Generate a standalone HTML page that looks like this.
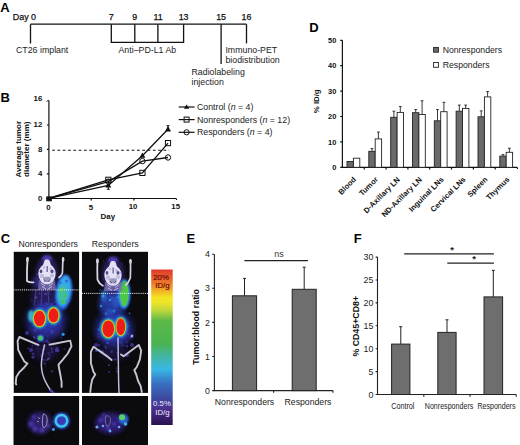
<!DOCTYPE html>
<html><head><meta charset="utf-8">
<style>
html,body{margin:0;padding:0;background:#fff;width:520px;height:445px;overflow:hidden}
svg{display:block;font-family:"Liberation Sans",sans-serif}
.b{font-weight:bold}
</style></head><body>
<svg width="520" height="445" viewBox="0 0 520 445">
<rect width="520" height="445" fill="#fff"/>

<!-- ============ PANEL A ============ -->
<g id="A">
<text x="0.3" y="11.65" class="b" font-size="13">A</text>
<g fill="#111" font-size="8.9" stroke="#111" stroke-width="0.25">
<text x="12.8" y="20">Day 0</text>
<g text-anchor="middle">
<text x="111.3" y="20">7</text>
<text x="134.8" y="20">9</text>
<text x="158" y="20">11</text>
<text x="183.6" y="20">13</text>
<text x="221.1" y="20">15</text>
<text x="246.5" y="20">16</text>
</g></g>
<g stroke="#111" stroke-width="1.3" fill="none">
<path d="M30.5 24.2H246.5"/>
<path d="M30.5 24.2V43.5"/>
<path d="M111.3 24.2V42.3H183.6V24.2M134.8 24.2V42.3M157.9 24.2V42.3"/>
<path d="M221.1 24.2V64"/>
<path d="M246.5 24.2V43.4"/>
</g>
<g fill="#222" font-size="8.8">
<text x="16" y="53">CT26 implant</text>
<text x="118.5" y="53">Anti–PD-L1 Ab</text>
<text x="191.5" y="75">Radiolabeling</text>
<text x="191.5" y="85">injection</text>
<text x="225.4" y="53">Immuno-PET</text>
<text x="225.4" y="63">biodistribution</text>
</g>
</g>

<!-- ============ PANEL B ============ -->
<g id="B">
<text x="0.5" y="102.45" class="b" font-size="13">B</text>
<g stroke="#111" stroke-width="1.2" fill="none">
<path d="M48.9 100.5V198.5H175.6C176.2 198.5 176.6 199 176.6 200"/>
<path d="M46.9 173.9H48.9M46.9 149.4H48.9M46.9 125.0H48.9M91.2 198.5V200.5M133.9 198.5V200.5"/>
<path d="M46.8 101.6C47.2 100.6 48 100.3 48.9 100.5" stroke-width="1"/>
</g>
<g class="b" font-size="7.8" fill="#111" text-anchor="end">
<text x="42.3" y="200.7">0</text>
<text x="42.3" y="176.2">4</text>
<text x="42.3" y="151.7">8</text>
<text x="42.3" y="127.3">12</text>
<text x="42.3" y="101.0">16</text>
</g>
<g class="b" font-size="7.8" fill="#111" text-anchor="middle">
<text x="48.4" y="209.5">0</text>
<text x="91.0" y="209.5">5</text>
<text x="133.1" y="209.4">10</text>
<text x="175.7" y="209.4">15</text>
</g>
<text x="107.8" y="218.8" class="b" font-size="7.9" fill="#111" text-anchor="middle">Day</text>
<g class="b" font-size="8.05" fill="#111" text-anchor="middle">
<text transform="translate(20.7,149.2) rotate(-90)">Average tumor</text>
<text transform="translate(29,149.2) rotate(-90)">diameter (mm)</text>
</g>
<path d="M52.2 150.2H169.2" stroke="#111" stroke-width="1.1" stroke-dasharray="2.7 2.6"/>
<g stroke="#111" stroke-width="1.3" fill="none">
<polyline points="48.6,198.4 108.3,181.6 142.4,161.1 168.0,157.5"/>
<polyline points="48.6,198.4 108.3,179.8 142.4,172.9 168.0,143.1"/>
<polyline points="48.6,198.4 108.3,185.5 142.4,155.7 168.0,129.3"/>
<path d="M108.3 185.5V189.3M106.8 189.3h3M168.0 129.3V125.7M166.5 125.7h3" stroke-width="1"/>
</g>
<g stroke="#111" stroke-width="1" fill="none">
<rect x="105.7" y="177.2" width="5.2" height="5.2"/>
<rect x="139.8" y="170.3" width="5.2" height="5.2"/>
<rect x="165.4" y="140.5" width="5.2" height="5.2"/>
<circle cx="108.3" cy="181.6" r="2.7"/>
<circle cx="142.4" cy="161.1" r="2.7"/>
<circle cx="168.0" cy="157.5" r="2.7"/>
</g>
<g fill="#111">
<path d="M108.3 182.3L111.3 187.6H105.3Z"/>
<path d="M142.4 152.5L145.4 157.8H139.4Z"/>
<path d="M168.0 126.1L171.0 131.4H165.0Z"/>
<rect x="46.2" y="196.4" width="5.7" height="4.9"/>
</g>
<g stroke="#111" stroke-width="1.2" fill="none">
<path d="M178.7 107H194.6"/>
<path d="M178.7 119.6H194.6"/>
<path d="M178.7 132.3H194.6"/>
<rect x="184.1" y="117.1" width="5" height="5" stroke-width="1"/>
<circle cx="186.6" cy="132.3" r="2.6" stroke-width="1"/>
</g>
<path d="M186.6 104.4L189.3 108.8H183.9Z" fill="#111"/>
<g font-size="8.8" fill="#222">
<text x="196.9" y="110.1">Control (<tspan font-style="italic">n</tspan> = 4)</text>
<text x="196.9" y="122.69999999999999">Nonresponders (<tspan font-style="italic">n</tspan> = 12)</text>
<text x="196.9" y="135.4">Responders (<tspan font-style="italic">n</tspan> = 4)</text>
</g>
</g>
<!-- ============ PANEL D ============ -->
<g id="D">
<text x="309.3" y="32.3" class="b" font-size="13">D</text>
<g stroke="#111" stroke-width="1.2" fill="none">
<path d="M342.4 40.3V167.3H516.7C517.2 167.3 517.5 167.8 517.5 169.1"/>
<path d="M340.2 167.3H342.4M340.2 141.9H342.4M340.2 116.5H342.4M340.2 91.1H342.4M340.2 65.7H342.4M340.2 40.3H342.4M364.2 167.3V169.5M386.1 167.3V169.5M407.9 167.3V169.5M429.7 167.3V169.5M451.5 167.3V169.5M473.4 167.3V169.5M495.2 167.3V169.5"/>
</g>
<g class="b" font-size="7.4" fill="#111" text-anchor="end">
<text x="336.3" y="170.0">0</text>
<text x="336.3" y="144.6">10</text>
<text x="336.3" y="119.2">20</text>
<text x="336.3" y="93.8">30</text>
<text x="336.3" y="68.4">40</text>
<text x="336.3" y="43.0">50</text>
</g>
<text class="b" font-size="7.8" fill="#111" text-anchor="middle" transform="translate(318.9,101.3) rotate(-90)">% ID/g</text>
<g stroke="#222" stroke-width="0.9">
<rect x="347.0" y="161.5" width="6.4" height="5.8" fill="#6a6a6a"/>
<rect x="353.4" y="158.2" width="6.4" height="9.1" fill="#fff"/>
<path d="M372.0 151.3V148.5M370.6 148.5h2.8" fill="none"/>
<path d="M378.4 138.9V132.0M377.0 132.0h2.8" fill="none"/>
<rect x="368.8" y="151.3" width="6.4" height="16.0" fill="#6a6a6a"/>
<rect x="375.2" y="138.9" width="6.4" height="28.4" fill="#fff"/>
<path d="M393.9 117.3V111.2M392.5 111.2h2.8" fill="none"/>
<path d="M400.3 112.4V106.6M398.9 106.6h2.8" fill="none"/>
<rect x="390.7" y="117.3" width="6.4" height="50.0" fill="#6a6a6a"/>
<rect x="397.1" y="112.4" width="6.4" height="54.9" fill="#fff"/>
<path d="M415.7 112.7V109.6M414.3 109.6h2.8" fill="none"/>
<path d="M422.1 114.5V100.8M420.7 100.8h2.8" fill="none"/>
<rect x="412.5" y="112.7" width="6.4" height="54.6" fill="#6a6a6a"/>
<rect x="418.9" y="114.5" width="6.4" height="52.8" fill="#fff"/>
<path d="M437.5 120.8V109.6M436.1 109.6h2.8" fill="none"/>
<path d="M443.9 111.7V102.3M442.5 102.3h2.8" fill="none"/>
<rect x="434.3" y="120.8" width="6.4" height="46.5" fill="#6a6a6a"/>
<rect x="440.7" y="111.7" width="6.4" height="55.6" fill="#fff"/>
<path d="M459.3 111.2V105.1M457.9 105.1h2.8" fill="none"/>
<path d="M465.7 108.4V105.1M464.3 105.1h2.8" fill="none"/>
<rect x="456.1" y="111.2" width="6.4" height="56.1" fill="#6a6a6a"/>
<rect x="462.5" y="108.4" width="6.4" height="58.9" fill="#fff"/>
<path d="M481.2 116.8V110.9M479.8 110.9h2.8" fill="none"/>
<path d="M487.6 96.9V91.6M486.2 91.6h2.8" fill="none"/>
<rect x="478.0" y="116.8" width="6.4" height="50.5" fill="#6a6a6a"/>
<rect x="484.4" y="96.9" width="6.4" height="70.4" fill="#fff"/>
<path d="M503.0 156.1V154.6M501.6 154.6h2.8" fill="none"/>
<path d="M509.4 152.3V148.2M508.0 148.2h2.8" fill="none"/>
<rect x="499.8" y="156.1" width="6.4" height="11.2" fill="#6a6a6a"/>
<rect x="506.2" y="152.3" width="6.4" height="15.0" fill="#fff"/>
</g>
<rect x="433.6" y="47.4" width="4.8" height="4.8" fill="#6a6a6a" stroke="#222" stroke-width="0.9"/>
<rect x="433.6" y="62.5" width="4.8" height="4.8" fill="#fff" stroke="#222" stroke-width="0.9"/>
<g font-size="8.7" fill="#222">
<text x="442.7" y="52.9">Nonresponders</text>
<text x="442.7" y="68.1">Responders</text>
</g>
<g class="b" font-size="7.6" fill="#111" text-anchor="end">
<text transform="translate(356.6,180) rotate(-45)">Blood</text>
<text transform="translate(378.5,180) rotate(-45)">Tumor</text>
<text transform="translate(400.4,180) rotate(-45)">D-Axillary LN</text>
<text transform="translate(422.3,180) rotate(-45)">ND-Axillary LN</text>
<text transform="translate(444.2,180) rotate(-45)">Inguinal LNs</text>
<text transform="translate(466.1,180) rotate(-45)">Cervical LNs</text>
<text transform="translate(488.0,180) rotate(-45)">Spleen</text>
<text transform="translate(509.9,180) rotate(-45)">Thymus</text>
</g>
</g>
<!-- ============ PANEL E ============ -->
<g id="E">
<text x="186.6" y="242.8" class="b" font-size="13">E</text>
<g stroke="#222" stroke-width="1.1" fill="none">
<path d="M214.4 254.2V390.6H333"/>
<path d="M212.2 390.6H214.4M212.2 356.5H214.4M212.2 322.4H214.4M212.2 288.3H214.4M212.2 254.2H214.4M273.6 390.6v2.2M333 390.6v2.2"/>
</g>
<g font-size="8.8" fill="#222" text-anchor="end">
<text x="209.8" y="393.7">0</text>
<text x="209.8" y="359.6">1</text>
<text x="209.8" y="325.5">2</text>
<text x="209.8" y="291.4">3</text>
<text x="209.8" y="257.3">4</text>
</g>
<text class="b" font-size="8.9" fill="#111" text-anchor="middle" transform="translate(198.6,326.9) rotate(-90)">Tumor:blood ratio</text>
<g stroke="#222" stroke-width="1">
<path d="M244.5 295.8V278.4M243.0 278.4h3" fill="none"/>
<rect x="232.4" y="295.8" width="24.2" height="94.8" fill="#6e6e6e"/>
<path d="M304.2 289.3V267.2M302.7 267.2h3" fill="none"/>
<rect x="292.2" y="289.3" width="24.0" height="101.3" fill="#6e6e6e"/>
</g>
<path d="M244.4 260.7H307.9" stroke="#222" stroke-width="1.2"/>
<text x="279" y="256.8" font-size="9" fill="#333" text-anchor="middle">ns</text>
<g font-size="8.7" fill="#222">
<text x="214.8" y="405.2">Nonresponders</text>
<text x="284.6" y="405.2">Responders</text>
</g>
</g>
<!-- ============ PANEL F ============ -->
<g id="F">
<text x="353.8" y="242.8" class="b" font-size="13">F</text>
<g stroke="#222" stroke-width="1.1" fill="none">
<path d="M377.5 257.1V394.5H516.2"/>
<path d="M375.6 394.5H377.6M375.6 371.6H377.6M375.6 348.7H377.6M375.6 325.8H377.6M375.6 302.9H377.6M375.6 280.0H377.6M375.6 257.1H377.6M423.8 394.5v2.2M470 394.5v2.2M516.2 394.5v2.2"/>
</g>
<g font-size="8.8" fill="#222" text-anchor="end">
<text x="373.4" y="397.6">0</text>
<text x="373.4" y="374.7">5</text>
<text x="373.4" y="351.8">10</text>
<text x="373.4" y="328.9">15</text>
<text x="373.4" y="306.0">20</text>
<text x="373.4" y="283.1">25</text>
<text x="373.4" y="260.2">30</text>
</g>
<text class="b" font-size="8.8" fill="#111" text-anchor="middle" transform="translate(359.2,326.3) rotate(-90)">% CD45+CD8+</text>
<g stroke="#222" stroke-width="1">
<path d="M400.8 344.1V326.7M399.2 326.7h3" fill="none"/>
<rect x="391.6" y="344.1" width="18.3" height="50.4" fill="#6e6e6e"/>
<path d="M447.0 332.4V319.8M445.5 319.8h3" fill="none"/>
<rect x="437.8" y="332.4" width="18.3" height="62.1" fill="#6e6e6e"/>
<path d="M493.3 296.9V270.4M491.8 270.4h3" fill="none"/>
<rect x="484.0" y="296.9" width="18.6" height="97.6" fill="#6e6e6e"/>
</g>
<path d="M404.2 253.8H493.9M447.3 263.1H493.9" stroke="#222" stroke-width="1.2"/>
<g font-size="9.5" class="b" fill="#222" text-anchor="middle">
<text x="452.2" y="252.9">*</text>
<text x="474" y="262.2">*</text>
</g>
<g font-size="8.6" fill="#222">
<text x="391.2" y="409.4" textLength="23.2" lengthAdjust="spacingAndGlyphs">Control</text>
<text x="424.8" y="409.4" textLength="48.5" lengthAdjust="spacingAndGlyphs">Nonresponders</text>
<text x="477.4" y="409.4" textLength="38.1" lengthAdjust="spacingAndGlyphs">Responders</text>
</g>
</g>
<!-- ============ PANEL C ============ -->
<defs>
<filter id="bl03" x="-20%" y="-20%" width="140%" height="140%"><feGaussianBlur stdDeviation="0.3"/></filter>
<filter id="bl06" x="-30%" y="-30%" width="160%" height="160%"><feGaussianBlur stdDeviation="0.6"/></filter>
<filter id="bl1" x="-50%" y="-50%" width="200%" height="200%"><feGaussianBlur stdDeviation="1"/></filter>
<filter id="bl2" x="-50%" y="-50%" width="200%" height="200%"><feGaussianBlur stdDeviation="2"/></filter>
<filter id="bl3" x="-50%" y="-50%" width="200%" height="200%"><feGaussianBlur stdDeviation="3"/></filter>
<clipPath id="cp1"><rect x="13.5" y="251.6" width="65.8" height="141.3"/></clipPath>
<clipPath id="cp2"><rect x="81.8" y="251.6" width="66.2" height="141.3"/></clipPath>
<clipPath id="cp3"><rect x="13.3" y="396" width="66" height="49"/></clipPath>
<clipPath id="cp4"><rect x="82" y="396" width="66" height="49"/></clipPath>
<linearGradient id="cbar" x1="0" y1="0" x2="0" y2="1">
<stop offset="0" stop-color="#e0392c"/>
<stop offset="0.09" stop-color="#ee7a2a"/>
<stop offset="0.18" stop-color="#f3e422"/>
<stop offset="0.21" stop-color="#eee628"/>
<stop offset="0.26" stop-color="#c2d73a"/>
<stop offset="0.33" stop-color="#5cb948"/>
<stop offset="0.48" stop-color="#4ab352"/>
<stop offset="0.55" stop-color="#44b49a"/>
<stop offset="0.64" stop-color="#3ab8e6"/>
<stop offset="0.73" stop-color="#3872c2"/>
<stop offset="0.82" stop-color="#3c4ca2"/>
<stop offset="0.90" stop-color="#4a2f8a"/>
<stop offset="1" stop-color="#2a1250"/>
</linearGradient>

</defs>
<g id="C">
<text x="0.7" y="242.7" class="b" font-size="13">C</text>
<g font-size="8.7" fill="#222">
<text x="18.5" y="247.3">Nonresponders</text>
<text x="91.8" y="246.8">Responders</text>
</g>
<!-- image 1 -->
<g clip-path="url(#cp1)">
<rect x="13.5" y="251.6" width="65.8" height="141.3" fill="#0b0a0d"/>
<!-- body haze -->
<ellipse cx="44" cy="298" rx="12" ry="14" fill="#3c2c96" opacity="0.55" filter="url(#bl3)"/>
<ellipse cx="46" cy="330" rx="17" ry="9" fill="#3a2e9a" opacity="0.6" filter="url(#bl3)"/>
<ellipse cx="45" cy="350" rx="14" ry="10" fill="#2e2478" opacity="0.45" filter="url(#bl3)"/>
<ellipse cx="37" cy="282" rx="5" ry="6" fill="#3a3aa8" opacity="0.6" filter="url(#bl2)"/>
<path d="M36 290L34 306M42 290L41 306M48 290L49 305" stroke="#6a60b0" stroke-width="1.2" opacity="0.45" filter="url(#bl06)"/>
<!-- speckle1 -->
<g filter="url(#bl06)">
<circle cx="51.7" cy="348.4" r="0.8" fill="#6a58d0" opacity="0.35"/>
<circle cx="47.7" cy="359.5" r="1.1" fill="#7a68d8" opacity="0.64"/>
<circle cx="61.1" cy="317.2" r="1.1" fill="#3a48c8" opacity="0.30"/>
<circle cx="35.2" cy="344.4" r="1.1" fill="#5a40c0" opacity="0.32"/>
<circle cx="32.4" cy="341.4" r="0.8" fill="#3a48c8" opacity="0.34"/>
<circle cx="41.3" cy="355.4" r="1.1" fill="#5a40c0" opacity="0.31"/>
<circle cx="37.7" cy="284.0" r="1.1" fill="#4a38b0" opacity="0.36"/>
<circle cx="54.2" cy="302.3" r="1.0" fill="#5a40c0" opacity="0.45"/>
<circle cx="60.2" cy="326.0" r="0.9" fill="#4a38b0" opacity="0.63"/>
<circle cx="45.1" cy="332.5" r="1.1" fill="#5a40c0" opacity="0.40"/>
<circle cx="31.8" cy="300.0" r="1.1" fill="#4a38b0" opacity="0.33"/>
<circle cx="38.6" cy="341.6" r="1.1" fill="#4a38b0" opacity="0.51"/>
<circle cx="39.7" cy="293.5" r="0.7" fill="#7a68d8" opacity="0.52"/>
<circle cx="45.2" cy="341.3" r="0.9" fill="#5a40c0" opacity="0.33"/>
<circle cx="48.0" cy="342.0" r="1.3" fill="#4a38b0" opacity="0.58"/>
<circle cx="52.1" cy="371.2" r="1.3" fill="#6a58d0" opacity="0.44"/>
<circle cx="43.4" cy="353.6" r="0.8" fill="#7a68d8" opacity="0.31"/>
<circle cx="34.1" cy="337.6" r="1.0" fill="#7a68d8" opacity="0.53"/>
<circle cx="45.4" cy="360.2" r="1.0" fill="#4a38b0" opacity="0.54"/>
<circle cx="43.4" cy="359.7" r="0.9" fill="#6a58d0" opacity="0.37"/>
<circle cx="43.0" cy="349.9" r="1.3" fill="#4a38b0" opacity="0.43"/>
<circle cx="49.7" cy="294.1" r="0.8" fill="#3a48c8" opacity="0.42"/>
<circle cx="44.7" cy="363.5" r="1.3" fill="#3a48c8" opacity="0.52"/>
<circle cx="45.7" cy="294.0" r="1.3" fill="#7a68d8" opacity="0.46"/>
<circle cx="37.6" cy="348.2" r="0.7" fill="#4a38b0" opacity="0.44"/>
<circle cx="32.4" cy="345.7" r="0.9" fill="#4a38b0" opacity="0.58"/>
<circle cx="52.2" cy="300.0" r="0.8" fill="#4a38b0" opacity="0.37"/>
<circle cx="36.0" cy="297.4" r="1.2" fill="#7a68d8" opacity="0.48"/>
<circle cx="61.3" cy="337.8" r="0.9" fill="#3a48c8" opacity="0.63"/>
<circle cx="49.0" cy="358.2" r="1.3" fill="#6a58d0" opacity="0.46"/>
<circle cx="55.8" cy="351.3" r="1.1" fill="#5a40c0" opacity="0.37"/>
<circle cx="64.0" cy="355.6" r="0.9" fill="#5a40c0" opacity="0.31"/>
<circle cx="47.5" cy="336.3" r="1.3" fill="#3a48c8" opacity="0.35"/>
<circle cx="46.7" cy="340.5" r="1.3" fill="#3a48c8" opacity="0.63"/>
<circle cx="45.7" cy="366.2" r="0.8" fill="#4a38b0" opacity="0.45"/>
<circle cx="48.6" cy="352.8" r="1.1" fill="#4a38b0" opacity="0.48"/>
<circle cx="61.1" cy="321.8" r="0.9" fill="#3a48c8" opacity="0.63"/>
<circle cx="37.4" cy="274.1" r="1.1" fill="#6a58d0" opacity="0.50"/>
<circle cx="46.7" cy="303.7" r="1.3" fill="#7a68d8" opacity="0.34"/>
<circle cx="64.5" cy="349.2" r="1.0" fill="#4a38b0" opacity="0.47"/>
<circle cx="45.0" cy="294.2" r="0.8" fill="#7a68d8" opacity="0.31"/>
<circle cx="35.4" cy="338.0" r="1.4" fill="#5a40c0" opacity="0.37"/>
<circle cx="34.0" cy="336.3" r="0.9" fill="#6a58d0" opacity="0.39"/>
<circle cx="49.6" cy="355.1" r="1.1" fill="#4a38b0" opacity="0.55"/>
<circle cx="51.9" cy="352.1" r="1.1" fill="#7a68d8" opacity="0.37"/>
<circle cx="51.8" cy="330.8" r="1.1" fill="#7a68d8" opacity="0.51"/>
<circle cx="56.6" cy="350.4" r="1.3" fill="#6a58d0" opacity="0.51"/>
<circle cx="51.6" cy="349.1" r="0.8" fill="#7a68d8" opacity="0.54"/>
<circle cx="33.0" cy="353.8" r="1.4" fill="#5a40c0" opacity="0.50"/>
<circle cx="40.4" cy="330.3" r="0.7" fill="#4a38b0" opacity="0.36"/>
<circle cx="44.0" cy="342.3" r="1.0" fill="#4a38b0" opacity="0.51"/>
<circle cx="28.2" cy="348.3" r="0.9" fill="#5a40c0" opacity="0.58"/>
<circle cx="51.7" cy="304.1" r="1.1" fill="#7a68d8" opacity="0.50"/>
<circle cx="39.0" cy="344.9" r="0.9" fill="#5a40c0" opacity="0.56"/>
<circle cx="58.2" cy="350.9" r="1.0" fill="#6a58d0" opacity="0.61"/>
</g>
<!-- tumor -->
<ellipse cx="63.5" cy="292.5" rx="8.6" ry="18" fill="#2a50d4" filter="url(#bl1)" transform="rotate(8 63.5 292.5)"/>
<ellipse cx="63.8" cy="291.5" rx="7" ry="16" fill="#34ace8" filter="url(#bl1)" transform="rotate(8 63.8 291.5)"/>
<ellipse cx="62.8" cy="294" rx="4.5" ry="9" fill="#3cbfa0" filter="url(#bl1)" transform="rotate(8 62.8 294)"/>
<circle cx="63.5" cy="302" r="2" fill="#4cc24c" filter="url(#bl06)"/>
<circle cx="61.5" cy="290" r="2" fill="#50c858" filter="url(#bl06)"/>
<circle cx="65" cy="296" r="1.5" fill="#48c050" filter="url(#bl06)"/>
<circle cx="66.5" cy="281" r="1.6" fill="#2a70d8" filter="url(#bl06)"/>
<circle cx="60" cy="283" r="1.4" fill="#2a70d8" filter="url(#bl06)"/>
<circle cx="68" cy="301" r="1.4" fill="#2a80e0" filter="url(#bl06)"/>
<!-- skull -->
<g transform="translate(47 270.5)">
<ellipse cx="0" cy="3" rx="11" ry="17" fill="#4a38b0" opacity="0.5" filter="url(#bl2)"/>
<ellipse cx="0" cy="-12" rx="5" ry="3.5" fill="#5a44c8" opacity="0.8" filter="url(#bl1)"/>
<path d="M-8 10C-4 8 4 8 8 10L9 19L-9 19Z" fill="#7a70b0" opacity="0.8" filter="url(#bl06)"/>
<path d="M-2 -10.5C0 -11.5 2 -11 2.8 -9L4 -5.5C6.5 -3.5 8.5 -1 8.6 2C8.7 5 8 7.5 6.8 9.5C5.5 12 3 13.8 0 13.8C-3 13.8 -5.5 12 -6.8 9.5C-8 7.5 -8.7 5 -8.6 2C-8.5 -1 -6.5 -3.5 -4 -5.5L-2.8 -9Z" fill="#e4e2f2" filter="url(#bl06)"/>
<ellipse cx="-6" cy="0.8" rx="1.3" ry="1.9" fill="#4a4888" filter="url(#bl03)"/>
<ellipse cx="5" cy="0.8" rx="1.5" ry="1.9" fill="#4a4888" filter="url(#bl03)"/>
<path d="M-0.6 -4.5H1V1.5H-0.6Z" fill="#7a78b0" filter="url(#bl03)"/>
<g fill="#a09cd0" opacity="0.55" filter="url(#bl06)"><circle cx="-5" cy="5.5" r="2.2"/><circle cx="5" cy="5" r="2"/><circle cx="-3" cy="-3" r="1.3"/><circle cx="3.5" cy="-1.5" r="1.4"/><circle cx="7" cy="1" r="1.2"/></g>
<path d="M-4 7C-2 6 2 6 4 7L3 11.5H-3Z" fill="#8a88b4" opacity="0.8" filter="url(#bl03)"/>
<path d="M-6 12.5L-2 15.5M6 12.5L2 15.5M-5 16L-1 18.5M5 16L1 18.5" stroke="#c8c4dc" stroke-width="0.9" filter="url(#bl03)"/>
<path d="M-3 9L-1 11M3 9L1 11" stroke="#4a4680" stroke-width="0.8" filter="url(#bl03)"/>
</g>
<!-- arms -->
<path d="M27.6 258C27 266 26.8 274 27 281C29 282.5 31 282.5 33.5 282.3" stroke="#dcd8e6" stroke-width="1.8" fill="none" filter="url(#bl03)" stroke-linecap="round"/>
<path d="M63 258C62.6 264 62.6 270 62.4 273C61.6 275.5 60.4 276.5 59 277.5" stroke="#d4d0e2" stroke-width="1.7" fill="none" filter="url(#bl03)" stroke-linecap="round"/>
<g fill="#d8d4e4" filter="url(#bl06)"><ellipse cx="27.4" cy="259.5" rx="1.4" ry="2.6"/><ellipse cx="63.1" cy="259.5" rx="1.3" ry="2.4"/></g>
<!-- kidneys -->
<ellipse cx="46" cy="320" rx="20" ry="17" fill="#2a36b0" opacity="0.6" filter="url(#bl3)"/>
<ellipse cx="46.5" cy="317" rx="15" ry="12" fill="#2e3cbc" opacity="0.8" filter="url(#bl2)"/>
<ellipse cx="39.5" cy="318.5" rx="8" ry="10" fill="#2ea8e0" filter="url(#bl1)"/>
<ellipse cx="53.5" cy="315.4" rx="7.3" ry="9.3" fill="#2ea8e0" filter="url(#bl1)"/>
<ellipse cx="37.5" cy="317" rx="6" ry="6" fill="#40c060" filter="url(#bl1)"/>
<ellipse cx="31" cy="316" rx="3" ry="6" fill="#3ab0c8" filter="url(#bl1)"/>
<ellipse cx="39.5" cy="318.5" rx="6.9" ry="9.1" fill="#58c848" filter="url(#bl06)"/>
<ellipse cx="53.5" cy="315.4" rx="6.3" ry="8.4" fill="#58c848" filter="url(#bl06)"/>
<ellipse cx="39.5" cy="318.5" rx="6.3" ry="8.5" fill="#eedc22" filter="url(#bl03)"/>
<ellipse cx="53.5" cy="315.4" rx="5.7" ry="7.8" fill="#eedc22" filter="url(#bl03)"/>
<ellipse cx="39.5" cy="318.5" rx="5.6" ry="7.8" fill="#ee1c16" filter="url(#bl03)"/>
<ellipse cx="53.5" cy="315.4" rx="5" ry="7.1" fill="#ee1c16" filter="url(#bl03)"/>
<!-- bladder -->
<circle cx="40.5" cy="338.2" r="3.6" fill="#2a60c8" filter="url(#bl06)"/>
<circle cx="40.5" cy="338.2" r="2.4" fill="#48c060" filter="url(#bl03)"/>
<!-- spots -->
<g fill="#4a38b0" opacity="0.75" filter="url(#bl06)">
<circle cx="27" cy="333" r="2"/><circle cx="31" cy="350" r="2"/><circle cx="57" cy="349" r="2"/><circle cx="35" cy="330" r="1.8"/><circle cx="33" cy="357" r="1.6"/><circle cx="52" cy="332" r="1.8"/>
</g>
<circle cx="63.1" cy="334.3" r="1.6" fill="#3090e0" filter="url(#bl03)"/>
<!-- legs / pelvis bones -->
<g stroke="#c8c4d2" stroke-width="1.9" fill="none" filter="url(#bl03)" stroke-linecap="round" stroke-linejoin="round">
<path d="M38.3 344.8L19.4 337L17.6 341.2L18.2 349.9L21.3 356L24.4 361.6L27.5 363.5L24.4 367.2L19.4 372.1L16.3 377.1L15.7 383.3L16.3 384.5"/>
<path d="M49.5 344.5L51.7 344.3L70.2 340.6L71.5 346.1L67.8 353.5L62.8 359.7L58.5 364.6L59.1 368.3L60.3 374.5L61.6 381.9L61.6 386.9"/>
<path d="M44.5 345C43 352 41.5 358 41.4 365C41.5 372 43.5 378 46.4 383.3C47.5 385.5 48.8 387.5 50.1 389.5" stroke-dasharray="1.5 0.5" stroke="#c4bedc" stroke-width="1.5"/>
</g>
<path d="M50 389.5L54.4 394" stroke="#5040c0" stroke-width="2.5" filter="url(#bl06)"/>
<path d="M13.5 289.9H79.3" stroke="#eeeeee" stroke-width="1" stroke-dasharray="1.1 1"/>
</g>
<!-- image 2 -->
<g clip-path="url(#cp2)">
<rect x="81.8" y="251.6" width="66.2" height="141.3" fill="#0b0a0d"/>
<ellipse cx="112" cy="300" rx="12" ry="12" fill="#3040b8" opacity="0.6" filter="url(#bl3)"/>
<ellipse cx="114" cy="335" rx="17" ry="10" fill="#3434a8" opacity="0.6" filter="url(#bl3)"/>
<ellipse cx="114" cy="352" rx="14" ry="8" fill="#2e2478" opacity="0.45" filter="url(#bl3)"/>
<ellipse cx="104" cy="296" rx="3" ry="6" fill="#2e8ad8" opacity="0.7" filter="url(#bl1)"/>
<ellipse cx="116" cy="302" rx="3" ry="6" fill="#2e8ad8" opacity="0.6" filter="url(#bl1)"/>
<ellipse cx="110" cy="312" rx="4" ry="3" fill="#30a0e0" opacity="0.6" filter="url(#bl1)"/>
<!-- speckle2 -->
<g filter="url(#bl06)">
<circle cx="122.6" cy="345.5" r="1.2" fill="#5a40c0" opacity="0.37"/>
<circle cx="100.1" cy="348.9" r="0.9" fill="#4a44c8" opacity="0.30"/>
<circle cx="109.1" cy="372.0" r="1.1" fill="#4a44c8" opacity="0.57"/>
<circle cx="119.1" cy="342.2" r="0.9" fill="#5a40c0" opacity="0.48"/>
<circle cx="104.1" cy="296.9" r="1.1" fill="#5a40c0" opacity="0.64"/>
<circle cx="117.0" cy="371.4" r="1.1" fill="#4a44c8" opacity="0.49"/>
<circle cx="109.0" cy="365.0" r="1.0" fill="#3a60d8" opacity="0.60"/>
<circle cx="110.9" cy="314.4" r="0.9" fill="#5a40c0" opacity="0.51"/>
<circle cx="108.1" cy="290.6" r="1.2" fill="#6a58d0" opacity="0.63"/>
<circle cx="121.2" cy="343.2" r="0.7" fill="#3a60d8" opacity="0.51"/>
<circle cx="122.1" cy="264.0" r="0.9" fill="#5a40c0" opacity="0.32"/>
<circle cx="110.9" cy="312.4" r="1.4" fill="#3a60d8" opacity="0.32"/>
<circle cx="96.3" cy="350.4" r="1.3" fill="#3a60d8" opacity="0.64"/>
<circle cx="127.9" cy="326.8" r="0.8" fill="#6a58d0" opacity="0.45"/>
<circle cx="108.0" cy="342.8" r="1.3" fill="#3a60d8" opacity="0.63"/>
<circle cx="107.8" cy="289.0" r="1.2" fill="#6a58d0" opacity="0.54"/>
<circle cx="103.4" cy="261.1" r="0.7" fill="#3a60d8" opacity="0.49"/>
<circle cx="107.1" cy="342.9" r="1.3" fill="#4a44c8" opacity="0.58"/>
<circle cx="111.7" cy="351.7" r="1.3" fill="#3a60d8" opacity="0.46"/>
<circle cx="128.8" cy="326.0" r="0.9" fill="#3a60d8" opacity="0.45"/>
<circle cx="105.2" cy="346.4" r="0.8" fill="#3a60d8" opacity="0.62"/>
<circle cx="113.8" cy="345.1" r="0.9" fill="#3a60d8" opacity="0.38"/>
<circle cx="124.1" cy="316.8" r="0.8" fill="#30a0e0" opacity="0.31"/>
<circle cx="127.0" cy="342.2" r="1.0" fill="#5a40c0" opacity="0.49"/>
<circle cx="128.8" cy="322.2" r="0.8" fill="#5a40c0" opacity="0.61"/>
<circle cx="117.0" cy="368.2" r="1.2" fill="#5a40c0" opacity="0.32"/>
<circle cx="116.1" cy="347.8" r="0.8" fill="#4a44c8" opacity="0.40"/>
<circle cx="96.3" cy="351.1" r="1.0" fill="#3a60d8" opacity="0.47"/>
<circle cx="112.2" cy="298.0" r="1.3" fill="#30a0e0" opacity="0.54"/>
<circle cx="128.4" cy="334.0" r="1.3" fill="#5a40c0" opacity="0.59"/>
<circle cx="120.2" cy="317.7" r="1.2" fill="#4a44c8" opacity="0.45"/>
<circle cx="101.0" cy="306.4" r="0.9" fill="#4a44c8" opacity="0.47"/>
<circle cx="132.1" cy="343.9" r="0.7" fill="#5a40c0" opacity="0.62"/>
<circle cx="100.1" cy="290.0" r="0.8" fill="#30a0e0" opacity="0.52"/>
<circle cx="129.5" cy="313.3" r="1.0" fill="#30a0e0" opacity="0.53"/>
<circle cx="127.0" cy="346.3" r="1.3" fill="#4a44c8" opacity="0.53"/>
<circle cx="112.8" cy="300.4" r="1.3" fill="#5a40c0" opacity="0.51"/>
<circle cx="106.2" cy="287.6" r="1.3" fill="#6a58d0" opacity="0.35"/>
<circle cx="115.2" cy="359.4" r="1.2" fill="#4a44c8" opacity="0.63"/>
<circle cx="117.8" cy="355.7" r="0.9" fill="#3a60d8" opacity="0.45"/>
<circle cx="115.9" cy="317.9" r="0.8" fill="#30a0e0" opacity="0.41"/>
<circle cx="98.2" cy="334.1" r="1.2" fill="#4a44c8" opacity="0.53"/>
<circle cx="116.8" cy="310.2" r="0.7" fill="#3a60d8" opacity="0.62"/>
<circle cx="98.7" cy="329.6" r="1.4" fill="#30a0e0" opacity="0.63"/>
<circle cx="105.6" cy="289.2" r="1.0" fill="#30a0e0" opacity="0.46"/>
<circle cx="98.5" cy="336.8" r="1.0" fill="#5a40c0" opacity="0.52"/>
<circle cx="106.0" cy="347.9" r="0.9" fill="#6a58d0" opacity="0.49"/>
<circle cx="103.5" cy="279.5" r="0.9" fill="#5a40c0" opacity="0.34"/>
<circle cx="108.6" cy="316.1" r="1.3" fill="#4a44c8" opacity="0.51"/>
<circle cx="99.0" cy="345.4" r="1.3" fill="#6a58d0" opacity="0.38"/>
<circle cx="118.9" cy="316.5" r="1.1" fill="#3a60d8" opacity="0.65"/>
<circle cx="117.2" cy="352.7" r="0.8" fill="#6a58d0" opacity="0.58"/>
<circle cx="112.0" cy="304.0" r="1.2" fill="#3a60d8" opacity="0.41"/>
<circle cx="121.5" cy="342.1" r="1.0" fill="#6a58d0" opacity="0.52"/>
<circle cx="109.9" cy="296.3" r="0.8" fill="#3a60d8" opacity="0.50"/>
</g>
<ellipse cx="112" cy="306" rx="13" ry="13" fill="#2c48c8" opacity="0.55" filter="url(#bl2)"/>
<g fill="#30a8e8" opacity="0.75" filter="url(#bl06)">
<circle cx="103" cy="296" r="1.5"/><circle cx="110" cy="300" r="1.3"/><circle cx="114" cy="311" r="1.6"/><circle cx="106" cy="314" r="1.4"/><circle cx="118" cy="297" r="1.3"/><circle cx="101" cy="306" r="1.2"/>
</g>
<!-- tumor green -->
<ellipse cx="124" cy="294" rx="6.5" ry="15" fill="#2a60d0" filter="url(#bl1)"/>
<ellipse cx="124" cy="294" rx="5.3" ry="13.8" fill="#38b0d8" filter="url(#bl1)"/>
<ellipse cx="124.3" cy="293.5" rx="4.2" ry="12.8" fill="#50c84a" filter="url(#bl06)"/>
<!-- skull -->
<g transform="translate(113 272)">
<ellipse cx="0" cy="3" rx="11" ry="17" fill="#4a38b0" opacity="0.5" filter="url(#bl2)"/>
<ellipse cx="0" cy="-12" rx="5" ry="3.5" fill="#5a44c8" opacity="0.8" filter="url(#bl1)"/>
<path d="M-8 10C-4 8 4 8 8 10L9 19L-9 19Z" fill="#7a70b0" opacity="0.8" filter="url(#bl06)"/>
<path d="M-2 -10.5C0 -11.5 2 -11 2.8 -9L4 -5.5C6.5 -3.5 8.5 -1 8.6 2C8.7 5 8 7.5 6.8 9.5C5.5 12 3 13.8 0 13.8C-3 13.8 -5.5 12 -6.8 9.5C-8 7.5 -8.7 5 -8.6 2C-8.5 -1 -6.5 -3.5 -4 -5.5L-2.8 -9Z" fill="#e4e2f2" filter="url(#bl06)"/>
<ellipse cx="-6" cy="0.8" rx="1.3" ry="1.9" fill="#4a4888" filter="url(#bl03)"/>
<ellipse cx="5" cy="0.8" rx="1.5" ry="1.9" fill="#4a4888" filter="url(#bl03)"/>
<path d="M-0.6 -4.5H1V1.5H-0.6Z" fill="#7a78b0" filter="url(#bl03)"/>
<g fill="#a09cd0" opacity="0.55" filter="url(#bl06)"><circle cx="-5" cy="5.5" r="2.2"/><circle cx="5" cy="5" r="2"/><circle cx="-3" cy="-3" r="1.3"/><circle cx="3.5" cy="-1.5" r="1.4"/><circle cx="7" cy="1" r="1.2"/></g>
<path d="M-4 7C-2 6 2 6 4 7L3 11.5H-3Z" fill="#8a88b4" opacity="0.8" filter="url(#bl03)"/>
<path d="M-6 12.5L-2 15.5M6 12.5L2 15.5M-5 16L-1 18.5M5 16L1 18.5" stroke="#c8c4dc" stroke-width="0.9" filter="url(#bl03)"/>
<path d="M-3 9L-1 11M3 9L1 11" stroke="#4a4680" stroke-width="0.8" filter="url(#bl03)"/>
</g>
<!-- arms -->
<path d="M97.5 259.4C97.2 266 97.2 273 97.5 279.6C98.6 282.5 100.5 284.5 102.9 285.7" stroke="#dcd8e6" stroke-width="1.8" fill="none" filter="url(#bl03)" stroke-linecap="round"/>
<path d="M130.5 260C130.6 266 130.6 272 130.3 278C129.2 281 127.6 283.5 125.8 285" stroke="#d4d0e2" stroke-width="1.7" fill="none" filter="url(#bl03)" stroke-linecap="round"/>
<g fill="#d8d4e4" filter="url(#bl06)"><ellipse cx="97.4" cy="261" rx="1.4" ry="2.6"/><ellipse cx="130.5" cy="261.5" rx="1.3" ry="2.4"/></g>
<!-- kidneys -->
<ellipse cx="114" cy="328" rx="19" ry="17" fill="#2a36b0" opacity="0.6" filter="url(#bl3)"/>
<ellipse cx="114.5" cy="327" rx="14" ry="12" fill="#2e3cbc" opacity="0.8" filter="url(#bl2)"/>
<ellipse cx="108.3" cy="328.8" rx="8.2" ry="10.6" fill="#2ea8e0" filter="url(#bl1)"/>
<ellipse cx="120.8" cy="326.8" rx="6.6" ry="10.6" fill="#2ea8e0" filter="url(#bl1)"/>
<ellipse cx="108.3" cy="328.8" rx="7" ry="9.6" fill="#58c848" filter="url(#bl06)"/>
<ellipse cx="120.8" cy="326.8" rx="5.4" ry="9.6" fill="#58c848" filter="url(#bl06)"/>
<ellipse cx="108.3" cy="328.8" rx="6.5" ry="9" fill="#eedc22" filter="url(#bl03)"/>
<ellipse cx="120.8" cy="326.8" rx="4.9" ry="9" fill="#eedc22" filter="url(#bl03)"/>
<ellipse cx="108.3" cy="328.8" rx="5.9" ry="8.4" fill="#ee1c16" filter="url(#bl03)"/>
<ellipse cx="120.8" cy="326.8" rx="4.4" ry="8.4" fill="#ee1c16" filter="url(#bl03)"/>
<g fill="#4a38b0" opacity="0.75" filter="url(#bl06)">
<circle cx="96" cy="345" r="2"/><circle cx="132" cy="345" r="2"/><circle cx="102" cy="352" r="2"/><circle cx="127" cy="355" r="2"/><circle cx="131" cy="337" r="1.6"/>
</g>
<circle cx="132" cy="336" r="1.4" fill="#a0a0f0" filter="url(#bl03)"/>
<g stroke="#c8c4d2" stroke-width="1.9" fill="none" filter="url(#bl03)" stroke-linecap="round" stroke-linejoin="round">
<path d="M111.7 360L108 356.9L93.5 346.8L90.9 351.9L90.9 363.2L93.5 372L95.3 374.6L92.2 379.6L90.9 385.9L90.3 392"/>
<path d="M121 354.4L123.6 356.3L138.7 344.9L141.2 350.6L139.9 359.4L136.8 367L134.3 370.1L136.2 374.5L138 380.8L140.6 385.9L141.8 392"/>
<path d="M118 338C118.2 352 118.4 365 118.5 375C118.6 382 118.8 386 119 393" stroke-dasharray="1.5 0.5" stroke="#c4bedc" stroke-width="1.5"/>
</g>
<path d="M81.8 293.4H148" stroke="#eeeeee" stroke-width="1" stroke-dasharray="1.1 1"/>
</g>
<!-- axial 1 -->
<g clip-path="url(#cp3)">
<rect x="13.3" y="396" width="66" height="49" fill="#0b0a0d"/>
<ellipse cx="40" cy="423" rx="12" ry="11" fill="#3a2890" opacity="0.75" filter="url(#bl2)"/>
<g fill="#5a40c0" opacity="0.7" filter="url(#bl1)">
<circle cx="31" cy="424" r="2.6"/><circle cx="35" cy="429" r="2.4"/><circle cx="42" cy="430" r="2.6"/><circle cx="34" cy="417" r="2"/><circle cx="48" cy="426" r="2"/>
</g>
<circle cx="61.5" cy="420.8" r="8.4" fill="#2a50d0" filter="url(#bl1)"/>
<circle cx="61.5" cy="420.8" r="5.8" fill="none" stroke="#40c8e8" stroke-width="2.3" filter="url(#bl06)"/>
<circle cx="61.5" cy="420.8" r="3.3" fill="#4038b0" filter="url(#bl06)"/>
<path d="M43.5 414C46.5 414 47.5 418 47 422C46.5 426 45 428 43.5 427.5C42 426 42 418 43.5 414Z" fill="none" stroke="#c0bcc8" stroke-width="0.9" opacity="0.9" filter="url(#bl03)"/>
<path d="M38 417L40 419M37 421L39 422" stroke="#b0a878" stroke-width="0.9" filter="url(#bl03)"/>
<circle cx="53.4" cy="429.4" r="1.6" fill="#3090e0" filter="url(#bl03)"/>
</g>
<!-- axial 2 -->
<g clip-path="url(#cp4)">
<rect x="82" y="396" width="66" height="49" fill="#0b0a0d"/>
<ellipse cx="110.5" cy="423" rx="15.5" ry="10.5" fill="#34248a" opacity="0.8" filter="url(#bl2)"/>
<g fill="#5040c0" opacity="0.7" filter="url(#bl1)">
<circle cx="101" cy="420" r="2.4"/><circle cx="108" cy="428" r="2.4"/><circle cx="114" cy="424" r="2.2"/><circle cx="104" cy="415" r="2"/>
</g>
<circle cx="123.5" cy="419" r="5" fill="#2a68d8" filter="url(#bl1)"/>
<circle cx="122" cy="417.3" r="3" fill="#5cd060" filter="url(#bl06)"/>
<circle cx="125.5" cy="424" r="1.8" fill="#38b8e0" filter="url(#bl06)"/>
<g fill="#6aa8f0" filter="url(#bl06)">
<circle cx="97" cy="427" r="1.6"/><circle cx="103" cy="426" r="1.3"/><circle cx="110" cy="431" r="1.4"/><circle cx="119" cy="427" r="1.3"/>
</g>
<path d="M106 416C108 415 111 417 110.5 421C110 425 108 427 106.5 425.5C105 423 105 418 106 416Z" fill="none" stroke="#b0ac90" stroke-width="0.8" opacity="0.7" filter="url(#bl03)"/>
</g>
<!-- colorbar -->
<rect x="151.2" y="269.5" width="21.5" height="155.5" fill="url(#cbar)"/>
<g font-size="7.8" text-anchor="middle">
<text x="161.1" y="280.1" fill="#6e0a08" stroke="#6e0a08" stroke-width="0.2">20%</text>
<text x="162.4" y="288.2" fill="#6e0a08" stroke="#6e0a08" stroke-width="0.2">ID/g</text>
<text x="162" y="406.3" fill="#f0ecfa">0.5%</text>
<text x="162.4" y="415.4" fill="#f0ecfa">ID/g</text>
</g>
</g>

</svg>
</body></html>
